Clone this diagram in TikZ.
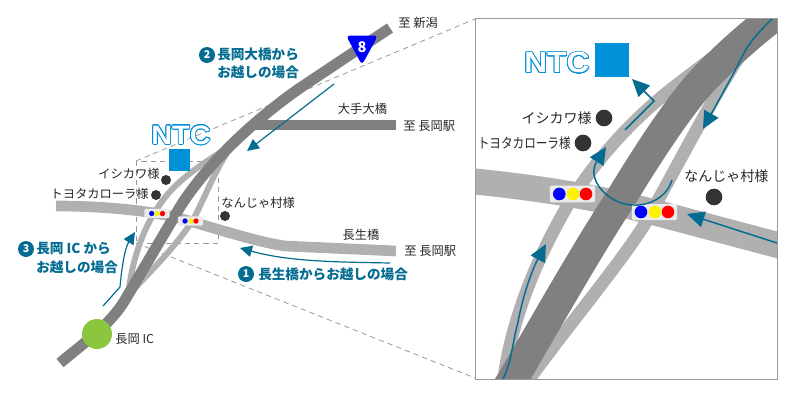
\documentclass[tikz,border=0pt]{standalone}
\usepackage{fontspec}
\usepackage[copies]{contour}
\setmainfont{Noto Sans CJK JP}
\newfontfamily\logofont{Liberation Sans}
\usetikzlibrary{arrows.meta}
\definecolor{roadlight}{RGB}{176,176,176}
\definecolor{roaddark}{RGB}{128,128,128}
\definecolor{routeteal}{RGB}{4,108,145}
\definecolor{ntcblue}{RGB}{0,144,216}
\definecolor{spotgrey}{RGB}{51,51,51}
\definecolor{panelgrey}{RGB}{153,153,153}
\contourlength{0.5pt}
\contournumber{32}
\tikzset{
	lightroad/.style={draw=roadlight,line cap=butt},
	darkroad/.style={draw=roaddark,line cap=butt},
	guide/.style={draw=panelgrey,dash pattern={on 4pt off 3pt},line width=0.6pt},
	route/.style={draw=routeteal,line width=0.9pt,-{Triangle[length=9pt,width=8.5pt]}},
	bigroute/.style={draw=routeteal,line width=1.1pt,-{Triangle[length=13pt,width=12pt]}},
	place/.style={inner sep=0pt,font=\fontsize{9.2}{10}\selectfont,text=black!85},
	bigplace/.style={inner sep=0pt,font=\fontsize{10.5}{12}\selectfont,text=black!85},
	callout/.style={inner sep=0pt,anchor=west,font=\fontsize{10.2}{11}\bfseries\selectfont,text=routeteal},
	badge/.style={circle,fill=routeteal,minimum size=12pt,inner sep=0pt,text=white,font=\fontsize{8}{8}\bfseries\selectfont},
	spot/.style={circle,fill=spotgrey,inner sep=0pt,minimum size=#1},
	lamp/.style={circle,inner sep=0pt,minimum size=#1},
	lampbox/.style={fill=white!92!black,rounded corners=1.5pt,inner sep=0pt},
}
\newcommand{\ntclogo}[1]{\logofont\bfseries\fontsize{#1}{#1}\selectfont\contour{ntcblue}{\textcolor{white}{NTC}}}
\begin{document}
\begin{tikzpicture}[x=0.75pt,y=0.75pt,yscale=-1,xscale=1]
	\useasboundingbox (0,0) rectangle (800,400);

	%Zoom guides
	\draw [guide] (136,161) rectangle (218,243);
	\draw [guide] (136,161) -- (475,19);
	\draw [guide] (136,243) -- (475,378);

	%Left map: roads
	\draw [lightroad,line width=8pt] (56,206) .. controls (100,206) and (140,210) .. (165,215) .. controls (195,221) and (250,241) .. (285,246) -- (396,251);
	\draw [darkroad,line width=7.5pt] (252,125) -- (396,125);
	\draw [lightroad,line width=4.5pt] (129,288) .. controls (133,260) and (142,228) .. (163,200) .. controls (178,180) and (200,165) .. (232,145);
	\draw [lightroad,line width=4.5pt] (133,290) .. controls (160,262) and (185,235) .. (195,216) .. controls (205,197) and (215,170) .. (232,145);
	\draw [darkroad,line width=8.2pt] (60,363) .. controls (85,342) and (110,325) .. (125,300) -- (180,207) .. controls (200,175) and (240,130) .. (300,88) -- (390,28);

	%Left map: signal lamps
	\node [lampbox,minimum width=19pt,minimum height=7pt] (lampA) at (157,213.5) {};
	\node [lampbox,minimum width=19pt,minimum height=7pt] (lampB) at (190.5,221) {};
	\node [lamp=4pt,fill=blue] at (151.7,213.5) {};
	\node [lamp=4pt,fill=yellow] at (157,213.5) {};
	\node [lamp=4pt,fill=red] at (162.5,213.5) {};
	\node [lamp=4pt,fill=blue] at (185,221) {};
	\node [lamp=4pt,fill=yellow] at (191,221) {};
	\node [lamp=4pt,fill=red] at (196,221) {};

	%Left map: places
	\node [spot=7.5pt] (ishikawa) at (166,180) {};
	\node [spot=7.5pt] (toyota) at (156,195) {};
	\node [spot=7.5pt] (nanjya) at (225,216) {};
	\node [circle,fill={rgb,255:red,140;green,198;blue,63},minimum size=22.5pt,inner sep=0pt] (icspot) at (97,334) {};
	\fill [ntcblue] (169,149) rectangle (190,171);
	\node [inner sep=0pt] (logoA) at (181,135.5) {\scalebox{1.08}[1]{\ntclogo{20}}};

	%Route 8 shield
	\fill [blue,rounded corners=3pt] (346,35.5) -- (378,35.5) -- (362,65) -- cycle;
	\node [inner sep=0pt,text=white,font=\fontsize{11}{11}\bfseries\selectfont] (shield) at (362,47) {8};

	%Left map: route arrows
	\draw [route] (390,263) .. controls (340,262) and (290,262) .. (240,248);
	\draw [route] (334,84) -- (247,151);
	\draw [route] (103,306) -- (120,287) .. controls (122,265) and (125,248) .. (135,232);

	% Text Node
	\node [place,anchor=west] (toNiigata) at (398,23) {至 新潟};
	\node [place] (otemo) at (362.5,109) {大手大橋};
	\node [place,anchor=west] (toStationA) at (403,126) {至 長岡駅};
	\node [place] (nagao) at (361,235) {長生橋};
	\node [place,anchor=west] (toStationB) at (404,251) {至 長岡駅};
	\node [place,anchor=west] (nanjyaLabel) at (221,203) {なんじゃ村様};
	\node [place,anchor=east] (ishikawaLabel) at (160,174) {イシカワ様};
	\node [place,anchor=east] (toyotaLabel) at (149,194) {トヨタカローラ様};
	\node [place,anchor=west] (icLabel) at (115,339) {長岡 IC};

	% Callouts
	\node [badge] (badgeB) at (207,55) {2};
	\node [callout] (calloutB) at (217,54) {長岡大橋から};
	\node [callout] (calloutBb) at (217,72) {お越しの場合};
	\node [badge] (badgeC) at (26,249) {3};
	\node [callout] (calloutC) at (36,249) {長岡 IC から};
	\node [callout] (calloutCc) at (36,267) {お越しの場合};
	\node [badge] (badgeA) at (246,274) {1};
	\node [callout] (calloutA) at (258,274) {長生橋からお越しの場合};

	%Detail panel
	\begin{scope}
		\clip (475,18) rectangle (777,379);
		\draw [lightroad,line width=19.5pt] (470,181) .. controls (560,190) and (610,201) .. (653,212) -- (785,247);
		\draw [lightroad,line width=9.5pt] (503,385) .. controls (508,340) and (525,280) .. (565,210) .. controls (585,175) and (620,130) .. (670,90) .. controls (700,67) and (725,48) .. (750,30);
		\draw [lightroad,line width=9.5pt] (525,385) .. controls (570,323) and (615,270) .. (643,227) .. controls (670,180) and (700,120) .. (740,55);
		\draw [darkroad,line width=23pt] (503,395) -- (513,379) .. controls (550,315) and (590,245) .. (621,198) .. controls (650,150) and (680,105) .. (703,80) .. controls (730,52) and (755,30) .. (795,0);

		\node [lampbox,minimum width=34pt,minimum height=12.5pt] (lampC) at (572.5,194) {};
		\node [lampbox,minimum width=34pt,minimum height=12pt] (lampD) at (654.5,212) {};
		\node [lamp=9.5pt,fill=blue] at (559.3,194) {};
		\node [lamp=9.5pt,fill=yellow] at (573,194) {};
		\node [lamp=9.5pt,fill=red] at (586,194) {};
		\node [lamp=9.5pt,fill=blue] at (641,212) {};
		\node [lamp=9.5pt,fill=yellow] at (655,212) {};
		\node [lamp=9.5pt,fill=red] at (668,212) {};

		\draw [bigroute] (772,19) .. controls (750,40) and (745,50) .. (737,67) -- (703,129);
		\draw [bigroute] (503,379) .. controls (512,360) and (512,345) .. (518,322) .. controls (523,295) and (532,270) .. (546,244);
		\draw [bigroute] (672,180) .. controls (666,200) and (645,206) .. (633,205) .. controls (610,205) and (585,180) .. (606,147);
		\draw [bigroute] (625,130) -- (654,101) -- (632,79);
		\draw [bigroute] (777,243) -- (687,214);
	\end{scope}
	\draw [panelgrey,line width=0.75pt] (475,18) rectangle (777,379);

	\node [spot=12.5pt] (ishikawaB) at (604,118) {};
	\node [spot=12.5pt] (toyotaB) at (583,143) {};
	\node [spot=12.5pt] (nanjyaB) at (714,197) {};
	\fill [ntcblue] (595,43) rectangle (629,77);
	\node [inner sep=0pt] (logoB) at (557,63) {\scalebox{1.08}[1]{\ntclogo{22}}};

	% Text Node
	\node [bigplace,anchor=east] (ishikawaBLabel) at (592,118) {イシカワ様};
	\node [bigplace,anchor=east] (toyotaBLabel) at (571,143) {\scalebox{0.83}[1]{トヨタカローラ様}};
	\node [bigplace,anchor=west] (nanjyaBLabel) at (684,176) {なんじゃ村様};

\end{tikzpicture}
\end{document}
